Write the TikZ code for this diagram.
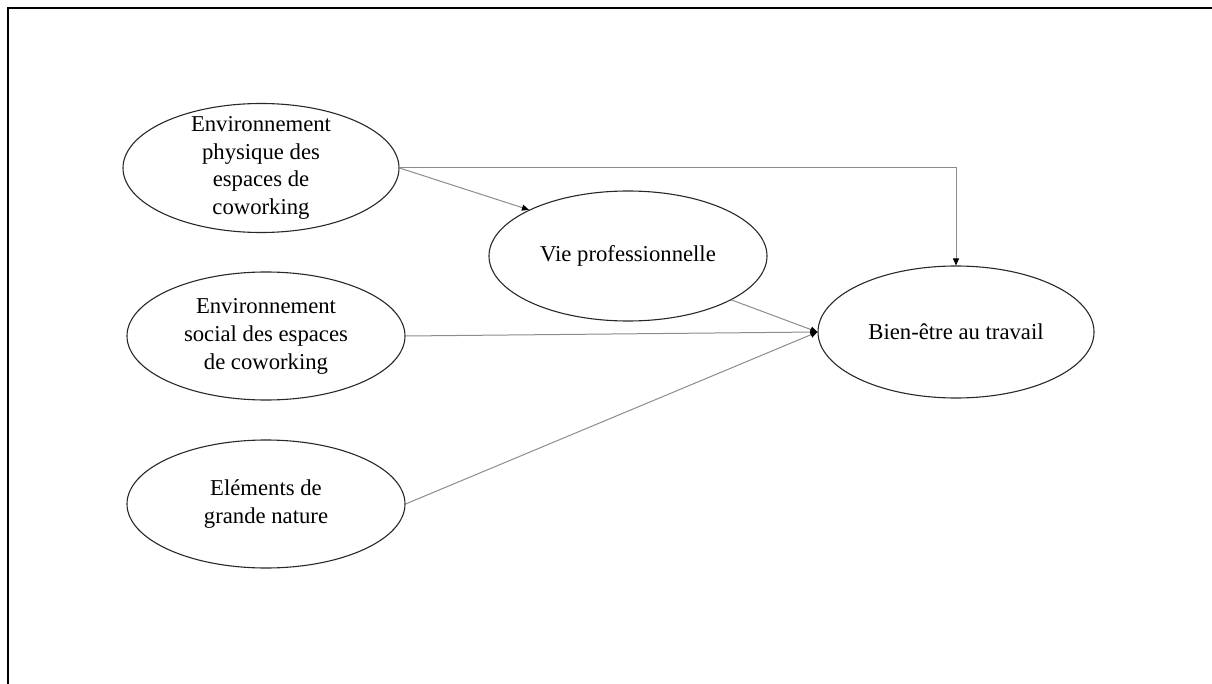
\documentclass[tikz,border=0pt]{standalone}
\usepackage{fontspec}
\setmainfont{Liberation Serif}
\usetikzlibrary{shapes.geometric,arrows.meta}
\definecolor{linegray}{RGB}{140,140,140}
\definecolor{edgedark}{RGB}{40,40,40}
\begin{document}
\begin{tikzpicture}[x=1pt,y=-1pt,
  oval/.style={ellipse,draw=edgedark,line width=1.1pt,inner sep=0pt,align=center,
    font=\fontsize{22.7}{28}\selectfont},
  conn/.style={draw=linegray,line width=1pt,-{Triangle[length=7pt,width=6pt,fill=black,color=black]}},
  frameline/.style={draw=black,line width=2pt}]
\useasboundingbox (0,0) rectangle (1212,684);
\draw[frameline] (8,686) -- (8,8) -- (1214,8);
\node[oval,minimum width=276pt,minimum height=129pt,inner ysep=-9pt,font=\fontsize{22.7}{27.4}\selectfont] (e1) at (261,168) {Environnement\\physique des\\espaces de\\coworking};
\node[oval,minimum width=278pt,minimum height=128pt] (e2) at (266,336) {Environnement\\social des espaces\\de coworking};
\node[oval,minimum width=278pt,minimum height=128pt] (e3) at (266,504) {Eléments de\\grande nature};
\node[oval,minimum width=278pt,minimum height=130pt] (vie) at (628,256) {Vie professionnelle};
\node[oval,minimum width=276pt,minimum height=132pt] (bien) at (956,332) {Bien-être au travail};
\draw[conn] (e1.east) -- (vie.155);
\draw[conn] (e1.east) -| (bien.north);
\draw[conn] (vie.-23) -- (bien.west);
\draw[conn] (e2.east) -- (bien.west);
\draw[conn] (e3.east) -- (bien.west);
\end{tikzpicture}
\end{document}
